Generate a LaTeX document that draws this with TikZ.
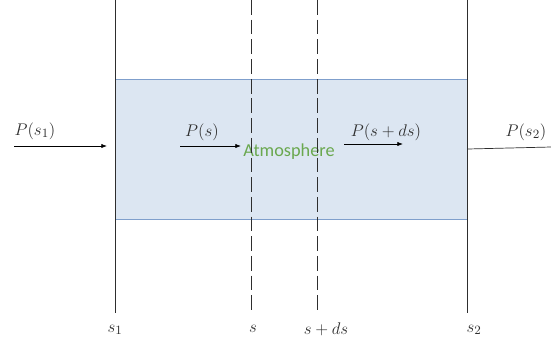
\documentclass[tikz,border=0pt]{standalone}
\usepackage{amsmath}
\usepackage{fontspec}
\newfontfamily\calfont{Carlito}
\usetikzlibrary{arrows.meta,positioning}
\definecolor{atmfill}{HTML}{dce6f2}
\definecolor{atmdraw}{HTML}{7f9fcc}
\definecolor{leaf}{HTML}{6aa84f}
\definecolor{ink}{HTML}{2e2e2e}

\begin{document}
\begin{tikzpicture}[
  x=0.025cm, y=-0.025cm,
  atm/.style={rectangle, draw=atmdraw, fill=atmfill, line width=0.6pt,
              minimum width=8.8cm, minimum height=3.5cm},
  bound/.style={draw=ink, line width=0.6pt},
  slice/.style={draw=ink, line width=0.6pt, dash pattern=on 10.5pt off 3.5pt},
  arr/.style={-{Latex[length=4pt,width=3pt]}, line width=0.5pt, color=black},
  lbl/.style={font=\fontsize{13}{15}\selectfont, text=ink, inner sep=1pt},
]
  \useasboundingbox (0,0) rectangle (551,345);
  \node[atm](atm) at (291,149) {};
  \node[font=\calfont\fontsize{13}{15}\selectfont, text=leaf](atmtext) at (289,152) {Atmosphere};
  % boundaries and slices
  \draw[bound](115,0)--(115,313) coordinate(b1);
  \draw[bound](467,0)--(467,313) coordinate(b2);
  \draw[slice](251,0)--(251,312) coordinate(d1);
  \draw[slice](317,0)--(317,312) coordinate(d2);
  \node[lbl](s1) at (115,330){$s_1$};
  \node[lbl](s2) at (474,330){$s_2$};
  \node[lbl](s) at (253,329){$s$};
  \node[lbl](sds) at (326,329){$s+ds$};
  % pressure arrows
  \coordinate(a1) at (14,146); \coordinate(a2) at (107,146);
  \coordinate(m1) at (180,146); \coordinate(m2) at (241,146);
  \coordinate(n1) at (344,144); \coordinate(n2) at (403,144);
  \coordinate(o1) at (atm.east|-0,149); \coordinate(o2) at (551,147);
  \draw[arr](a1)--(a2); \draw[arr](m1)--(m2); \draw[arr](n1)--(n2);
  \draw[line width=0.5pt,color=ink](o1)--(o2);
  \node[lbl](p1) at (35,131){$P(s_1)$};
  \node[lbl](p) at (202,132){$P(s)$};
  \node[lbl](pds) at (386,132){$P(s+ds)$};
  \node[lbl](p2) at (526,132){$P(s_2)$};
\end{tikzpicture}
\end{document}
